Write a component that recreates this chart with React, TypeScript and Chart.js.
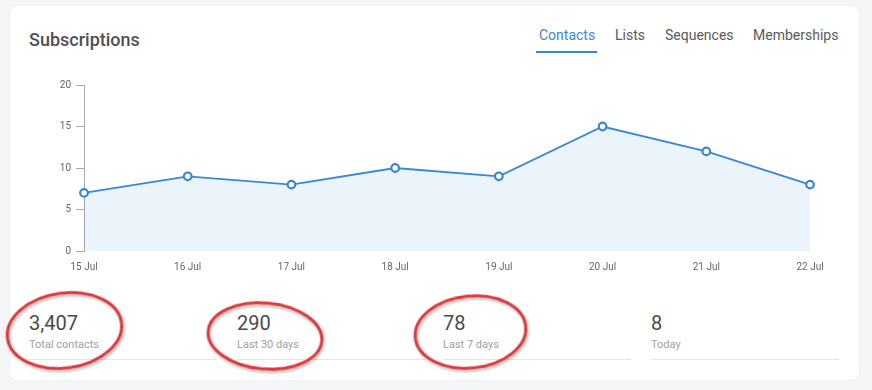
import React, { useEffect, useRef } from "react";
import { Chart, registerables } from "chart.js";

Chart.register(...registerables);

const days = ["15 Jul", "16 Jul", "17 Jul", "18 Jul", "19 Jul", "20 Jul", "21 Jul", "22 Jul"];
const subscriptions = [7, 9, 8, 10, 9, 15, 12, 8];
const tabs = ["Contacts", "Lists", "Sequences", "Memberships"];
const statValues = ["3,407", "290", "78", "8"];
const statLabels = ["Total contacts", "Last 30 days", "Last 7 days", "Today"];
const circled = [true, true, true, false];

const FONT = "Roboto, 'Noto Sans', sans-serif";
const BLUE = "#3a87d4";

export default function App() {
  const ref = useRef<HTMLCanvasElement | null>(null);

  useEffect(() => {
    if (!ref.current) return;
    const chart = new Chart(ref.current, {
      type: "line",
      data: {
        labels: days,
        datasets: [
          {
            data: subscriptions,
            borderColor: BLUE,
            borderWidth: 1.8,
            backgroundColor: "rgba(58,135,212,0.1)",
            fill: "origin",
            tension: 0,
            pointRadius: 3.8,
            pointBorderWidth: 2.2,
            pointBackgroundColor: "#ffffff",
            pointBorderColor: BLUE,
          },
        ],
      },
      options: {
        animation: false,
        responsive: false,
        maintainAspectRatio: false,
        layout: { padding: { top: 10, right: 30, left: 0, bottom: 0 } },
        plugins: { legend: { display: false }, tooltip: { enabled: false } },
        scales: {
          x: {
            offset: false,
            grid: { display: false },
            border: { display: false },
            ticks: { color: "#666", font: { family: FONT, size: 10 }, padding: 2, maxRotation: 0 },
            afterFit: (s: any) => {
              s.height = 22;
            },
          },
          y: {
            min: 0,
            max: 20,
            ticks: { stepSize: 5, color: "#666", font: { family: FONT, size: 10 }, padding: 5 },
            grid: { drawOnChartArea: false, drawTicks: true, tickLength: 8, color: "#aaa" },
            border: { display: true, color: "#aaa" },
            afterFit: (s: any) => {
              s.width = 34;
            },
          },
        },
      },
    });
    return () => chart.destroy();
  }, []);

  const cols = [29, 237, 443, 651];
  const ellipses = [
    { cx: 64.5, cy: 330.5, rx: 57.5, ry: 37.5, rot: -8 },
    { cx: 265, cy: 336, rx: 57, ry: 33, rot: 5 },
    { cx: 470.5, cy: 332, rx: 55.5, ry: 36, rot: -6 },
  ];

  return (
    <div
      style={{
        position: "fixed",
        left: 0,
        top: 0,
        width: 872,
        height: 390,
        background: "#f5f6f8",
        fontFamily: FONT,
        overflow: "hidden",
      }}
    >
      <div
        style={{
          position: "absolute",
          left: 10,
          top: 6,
          width: 849,
          height: 374,
          background: "#fff",
          borderRadius: 8,
          boxShadow: "0 0 3px rgba(0,0,0,0.05)",
        }}
      />
      <div
        style={{
          position: "absolute",
          left: 29,
          top: 28,
          fontSize: 18,
          fontWeight: 500,
          color: "#4f4f4f",
          lineHeight: "24px",
        }}
      >
        Subscriptions
      </div>
      {tabs.map((t, i) => {
        const lefts = [539, 615, 665, 753];
        return (
          <div
            key={t}
            style={{
              position: "absolute",
              left: lefts[i],
              top: 25,
              fontSize: 14,
              lineHeight: "20px",
              color: i === 0 ? BLUE : "#5a5a5a",
            }}
          >
            {t}
          </div>
        );
      })}
      <div style={{ position: "absolute", left: 536, top: 51, width: 61, height: 2, background: BLUE }} />
      <canvas
        ref={ref}
        width={790}
        height={199}
        style={{ position: "absolute", left: 50, top: 74, width: 790, height: 199 }}
      />
      {statValues.map((v, i) => (
        <div
          key={i}
          style={{
            position: "absolute",
            left: cols[i],
            top: 310,
            width: 188,
            height: 49,
            borderBottom: "1px solid #e6e6e6",
          }}
        >
          <div style={{ fontSize: 20, color: "#4a4a4a", lineHeight: "26px" }}>{v}</div>
          <div style={{ fontSize: 11, color: "#a0a0a0", lineHeight: "16px", marginTop: 1 }}>{statLabels[i]}</div>
        </div>
      ))}
      <svg
        width={872}
        height={390}
        style={{ position: "absolute", left: 0, top: 0, pointerEvents: "none" }}
      >
        <defs>
          <filter id="sh" x="-20%" y="-20%" width="140%" height="140%">
            <feDropShadow dx="1" dy="2" stdDeviation="1.5" floodColor="#000" floodOpacity="0.3" />
          </filter>
        </defs>
        {ellipses.map((e, i) =>
          circled[i] ? (
            <ellipse
              key={i}
              cx={e.cx}
              cy={e.cy}
              rx={e.rx}
              ry={e.ry}
              transform={`rotate(${e.rot} ${e.cx} ${e.cy})`}
              fill="none"
              stroke="#dc3b3d"
              strokeWidth={3}
              filter="url(#sh)"
            />
          ) : null
        )}
      </svg>
    </div>
  );
}
